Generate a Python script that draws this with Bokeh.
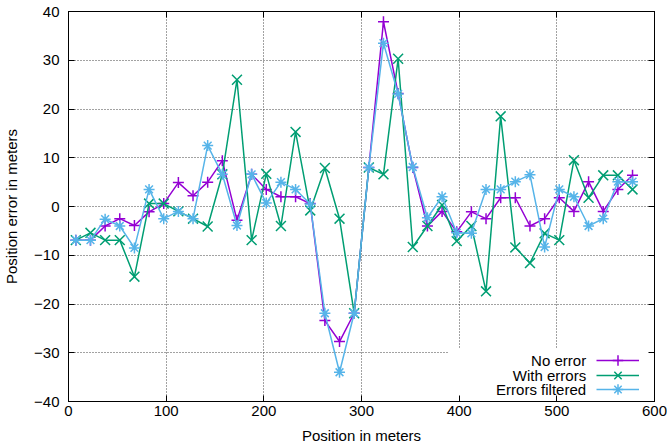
from bokeh.plotting import figure
from bokeh.models import (Legend, LegendItem, Label, BoxAnnotation, LinearAxis,
                          FixedTicker, Range1d)
from bokeh.embed import file_html
from bokeh.resources import INLINE

# ---- data ----
positions = [7.5, 22.5, 37.5, 52.5, 67.5, 82.5, 97.5, 112.5, 127.5, 142.5,
             157.5, 172.5, 187.5, 202.5, 217.5, 232.5, 247.5, 262.5, 277.5, 292.5,
             307.5, 322.5, 337.5, 352.5, 367.5, 382.5, 397.5, 412.5, 427.5, 442.5,
             457.5, 472.5, 487.5, 502.5, 517.5, 532.5, 547.5, 562.5, 577.5]

no_error = [-6.9, -6.9, -4.0, -2.5, -3.9, -1.1, 0.6, 4.9, 2.2, 5.0,
            9.4, -2.8, 6.6, 3.5, 2.0, 2.0, 0.6, -23.4, -27.7, -21.9,
            8.0, 37.9, 23.2, 8.0, -4.0, -1.0, -5.2, -1.1, -2.5, 1.8,
            1.8, -4.0, -2.5, 1.8, -1.0, 5.1, -1.0, 3.5, 6.4]

with_errors = [-6.9, -5.4, -6.9, -6.9, -14.4, 0.6, 0.6, -1.0, -2.5, -4.1,
               6.6, 26.0, -6.9, 6.7, -4.0, 15.3, -0.8, 7.9, -2.5, -21.9,
               8.0, 6.6, 30.3, -8.3, -4.0, 0.3, -7.1, -4.0, -17.4, 18.5,
               -8.4, -11.6, -5.5, -6.9, 9.5, 1.8, 6.4, 6.4, 3.5]

errors_filtered = [-6.9, -6.9, -2.6, -4.0, -8.5, 3.5, -2.5, -1.0, -2.5, 12.5,
                   6.6, -3.9, 6.6, 0.7, 5.0, 3.5, 0.5, -21.9, -34.0, -21.9,
                   8.0, 33.5, 23.1, 8.1, -2.3, 2.0, -5.4, -5.5, 3.5, 3.5,
                   5.1, 6.5, -8.3, 3.5, 2.0, -4.0, -2.5, 5.1, 5.1]

series_names = ["No error", "With errors", "Errors filtered"]
series_colors = ["#9400d3", "#009e73", "#56b4e9"]
series_markers = ["cross", "x", "asterisk"]
marker_sizes = [11, 14, 11]

x_ticks = [0, 100, 200, 300, 400, 500, 600]
y_ticks = [-40, -30, -20, -10, 0, 10, 20, 30, 40]
x_title = "Position in meters"
y_title = "Position error in meters"

FONT = "Liberation Sans"
FS = "15px"

p = figure(width=667, height=448, x_range=Range1d(0, 600), y_range=Range1d(-40, 40),
           output_backend="svg", toolbar_location=None,
           min_border_left=66, min_border_right=13, min_border_top=11, min_border_bottom=47)
p.background_fill_color = "white"
p.border_fill_color = "white"
p.outline_line_color = "black"
p.outline_line_width = 1

for ax, ticks in ((p.xaxis[0], x_ticks), (p.yaxis[0], y_ticks)):
    ax.ticker = FixedTicker(ticks=ticks)
    ax.major_tick_in = 6
    ax.major_tick_out = 0
    ax.minor_tick_line_color = None
    ax.axis_line_color = "black"
    ax.major_tick_line_color = "black"
    ax.major_label_text_font = FONT
    ax.major_label_text_font_size = FS
    ax.major_label_text_color = "black"
    ax.axis_label_text_font = FONT
    ax.axis_label_text_font_size = FS
    ax.axis_label_text_font_style = "normal"
    ax.axis_label_text_color = "black"

p.xaxis.axis_label = x_title
p.yaxis.axis_label = y_title
p.xaxis.major_label_standoff = 4
p.xaxis.axis_label_standoff = 8
p.yaxis.major_label_standoff = 9
p.yaxis.axis_label_standoff = 11

# mirror ticks on top and right
top = LinearAxis(ticker=FixedTicker(ticks=x_ticks), major_tick_in=6, major_tick_out=0,
                 minor_tick_line_color=None, major_label_text_font_size="0px",
                 major_label_standoff=0, major_label_overrides={t: "" for t in x_ticks})
right = LinearAxis(ticker=FixedTicker(ticks=y_ticks), major_tick_in=6, major_tick_out=0,
                   minor_tick_line_color=None, major_label_text_font_size="0px",
                   major_label_standoff=0, major_label_overrides={t: "" for t in y_ticks})
p.add_layout(top, "above")
p.add_layout(right, "right")

p.xgrid.ticker = FixedTicker(ticks=x_ticks)
p.ygrid.ticker = FixedTicker(ticks=y_ticks)
for g in (p.xgrid[0], p.ygrid[0]):
    g.grid_line_color = "#444444"
    g.grid_line_dash = "1 2"
    g.grid_line_width = 1

# opaque key background (hides grid, like the original)
key_bg = BoxAnnotation(left=389, top=-29, fill_color="white", fill_alpha=1,
                       line_alpha=0, level="underlay")
p.add_layout(key_bg)

renderers = []
for ys, col, mk, ms in zip([no_error, with_errors, errors_filtered],
                           series_colors, series_markers, marker_sizes):
    r1 = p.line(positions, ys, line_color=col, line_width=1.5)
    r2 = p.scatter(positions, ys, marker=mk, size=ms, line_color=col, line_width=1.5,
                   fill_color=None)
    renderers.append([r1, r2])

# one key row per series (line sample with marker on the right of the text)
key_rows_px = [28, 13, -1]
key_label_y = [-31.6, -34.6, -37.5]
for name, rs, row_px, ly in zip(series_names, renderers, key_rows_px, key_label_y):
    leg = Legend(items=[LegendItem(label=" ", renderers=rs)], location=(528, row_px),
                 glyph_width=43, glyph_height=26, label_height=26, label_width=0,
                 label_standoff=0, spacing=0, padding=0, margin=0,
                 label_text_font_size="1px", background_fill_alpha=0,
                 border_line_alpha=0)
    p.add_layout(leg)
    p.add_layout(Label(x=530, y=ly, text=name, text_align="right", text_baseline="middle",
                       text_font=FONT, text_font_size=FS, text_color="black"))

open("out.html", "w").write(file_html(p, INLINE))
